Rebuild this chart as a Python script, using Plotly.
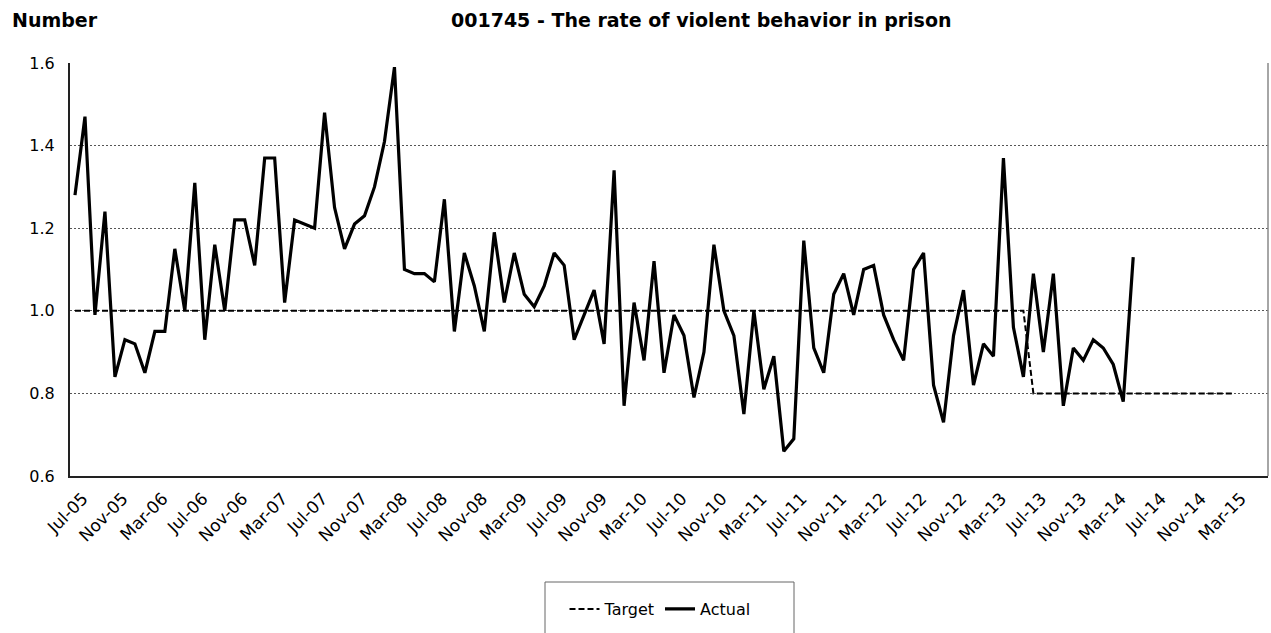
import pandas as pd
import plotly.graph_objects as go

# Categories: monthly from Jul-05 (120 months on the axis)
months = list(pd.date_range("2005-07-01", periods=120, freq="MS").strftime("%b-%y"))
tick_labels = months[0:117:4]  # Jul-05 ... Mar-15

actual = [
    1.28, 1.47, 0.99, 1.24, 0.84, 0.93, 0.92, 0.85, 0.95, 0.95,
    1.15, 1.00, 1.31, 0.93, 1.16, 1.00, 1.22, 1.22, 1.11, 1.37,
    1.37, 1.02, 1.22, 1.21, 1.20, 1.48, 1.25, 1.15, 1.21, 1.23,
    1.30, 1.41, 1.59, 1.10, 1.09, 1.09, 1.07, 1.27, 0.95, 1.14,
    1.06, 0.95, 1.19, 1.02, 1.14, 1.04, 1.01, 1.06, 1.14, 1.11,
    0.93, 0.99, 1.05, 0.92, 1.34, 0.77, 1.02, 0.88, 1.12, 0.85,
    0.99, 0.94, 0.79, 0.90, 1.16, 1.00, 0.94, 0.75, 1.00, 0.81,
    0.89, 0.66, 0.69, 1.17, 0.91, 0.85, 1.04, 1.09, 0.99, 1.10,
    1.11, 0.99, 0.93, 0.88, 1.10, 1.14, 0.82, 0.73, 0.94, 1.05,
    0.82, 0.92, 0.89, 1.37, 0.96, 0.84, 1.09, 0.90, 1.09, 0.77,
    0.91, 0.88, 0.93, 0.91, 0.87, 0.78, 1.13,
]

target = [
    1.0, 1.0, 1.0, 1.0, 1.0, 1.0, 1.0, 1.0, 1.0, 1.0,
    1.0, 1.0, 1.0, 1.0, 1.0, 1.0, 1.0, 1.0, 1.0, 1.0,
    1.0, 1.0, 1.0, 1.0, 1.0, 1.0, 1.0, 1.0, 1.0, 1.0,
    1.0, 1.0, 1.0, 1.0, 1.0, 1.0, 1.0, 1.0, 1.0, 1.0,
    1.0, 1.0, 1.0, 1.0, 1.0, 1.0, 1.0, 1.0, 1.0, 1.0,
    1.0, 1.0, 1.0, 1.0, 1.0, 1.0, 1.0, 1.0, 1.0, 1.0,
    1.0, 1.0, 1.0, 1.0, 1.0, 1.0, 1.0, 1.0, 1.0, 1.0,
    1.0, 1.0, 1.0, 1.0, 1.0, 1.0, 1.0, 1.0, 1.0, 1.0,
    1.0, 1.0, 1.0, 1.0, 1.0, 1.0, 1.0, 1.0, 1.0, 1.0,
    1.0, 1.0, 1.0, 1.0, 1.0, 1.0, 0.8, 0.8, 0.8, 0.8,
    0.8, 0.8, 0.8, 0.8, 0.8, 0.8, 0.8, 0.8, 0.8, 0.8,
    0.8, 0.8, 0.8, 0.8, 0.8, 0.8, 0.8,
]

y_ticks = [0.6, 0.8, 1.0, 1.2, 1.4, 1.6]

FONT = "DejaVu Sans"

fig = go.Figure()
fig.add_trace(go.Scatter(
    x=months[:len(target)], y=target, name="Target", mode="lines",
    line=dict(color="black", width=2, dash="6px,3px"),
))
fig.add_trace(go.Scatter(
    x=months[:len(actual)], y=actual, name="Actual", mode="lines",
    line=dict(color="black", width=3.2),
))

L, R, T, B = 70, 3, 63, 157
W, H = 1271, 633
pw, ph = W - L - R, H - T - B

def px_x(px):
    return (px - L) / pw

def px_y(py):
    return (H - B - py) / ph

fig.update_layout(
    width=W, height=H, autosize=False,
    margin=dict(l=L, r=R, t=T, b=B, pad=0),
    paper_bgcolor="white", plot_bgcolor="white",
    font=dict(family=FONT, color="black", size=16),
    showlegend=True,
    legend=dict(
        orientation="h", x=px_x(660), xanchor="center",
        y=px_y(609), yanchor="middle",
        bgcolor="rgba(0,0,0,0)", borderwidth=0,
        font=dict(family=FONT, size=16, color="black"),
        traceorder="normal",
    ),
    xaxis=dict(
        type="category", categoryorder="array", categoryarray=months,
        range=[-0.5, len(months) - 0.5],
        tickmode="array", tickvals=tick_labels, ticktext=tick_labels,
        tickangle=-45, ticks="", showgrid=False, automargin=False,
        ticklabelshift=8, ticklabelstandoff=4,
        showline=True, linecolor="#222", linewidth=2,
        tickfont=dict(family=FONT, size=17, color="black"),
        zeroline=False, fixedrange=True,
    ),
    yaxis=dict(
        range=[0.6, 1.6], tickvals=y_ticks, tickformat=".1f",
        ticks="", showgrid=True, gridcolor="#555", gridwidth=1, griddash="2px,2px",
        showline=True, linecolor="#222", linewidth=2, automargin=False,
        tickfont=dict(family=FONT, size=16, color="black"),
        ticklabelstandoff=10, zeroline=False, fixedrange=True,
    ),
    shapes=[
        dict(type="line", xref="paper", yref="paper", x0=1, x1=1, y0=0, y1=1,
             line=dict(color="#888", width=1.5)),
        dict(type="rect", xref="paper", yref="paper",
             x0=px_x(545), x1=px_x(794), y0=px_y(582), y1=px_y(660),
             line=dict(color="#666", width=1), fillcolor="rgba(0,0,0,0)"),
    ],
    annotations=[
        dict(text="<b>Number</b>", xref="paper", yref="paper",
             x=px_x(10), y=px_y(20), xanchor="left", yanchor="middle",
             showarrow=False, font=dict(family=FONT, size=19, color="black")),
        dict(text="<b>001745 - The rate of violent behavior in prison</b>",
             xref="paper", yref="paper",
             x=px_x(701), y=px_y(20), xanchor="center", yanchor="middle",
             showarrow=False, font=dict(family=FONT, size=19, color="black")),
    ],
)

fig.write_html(
    "out.html",
    config={"displayModeBar": False},
    post_script="document.body.style.margin='0';document.body.style.overflow='hidden';",
)
